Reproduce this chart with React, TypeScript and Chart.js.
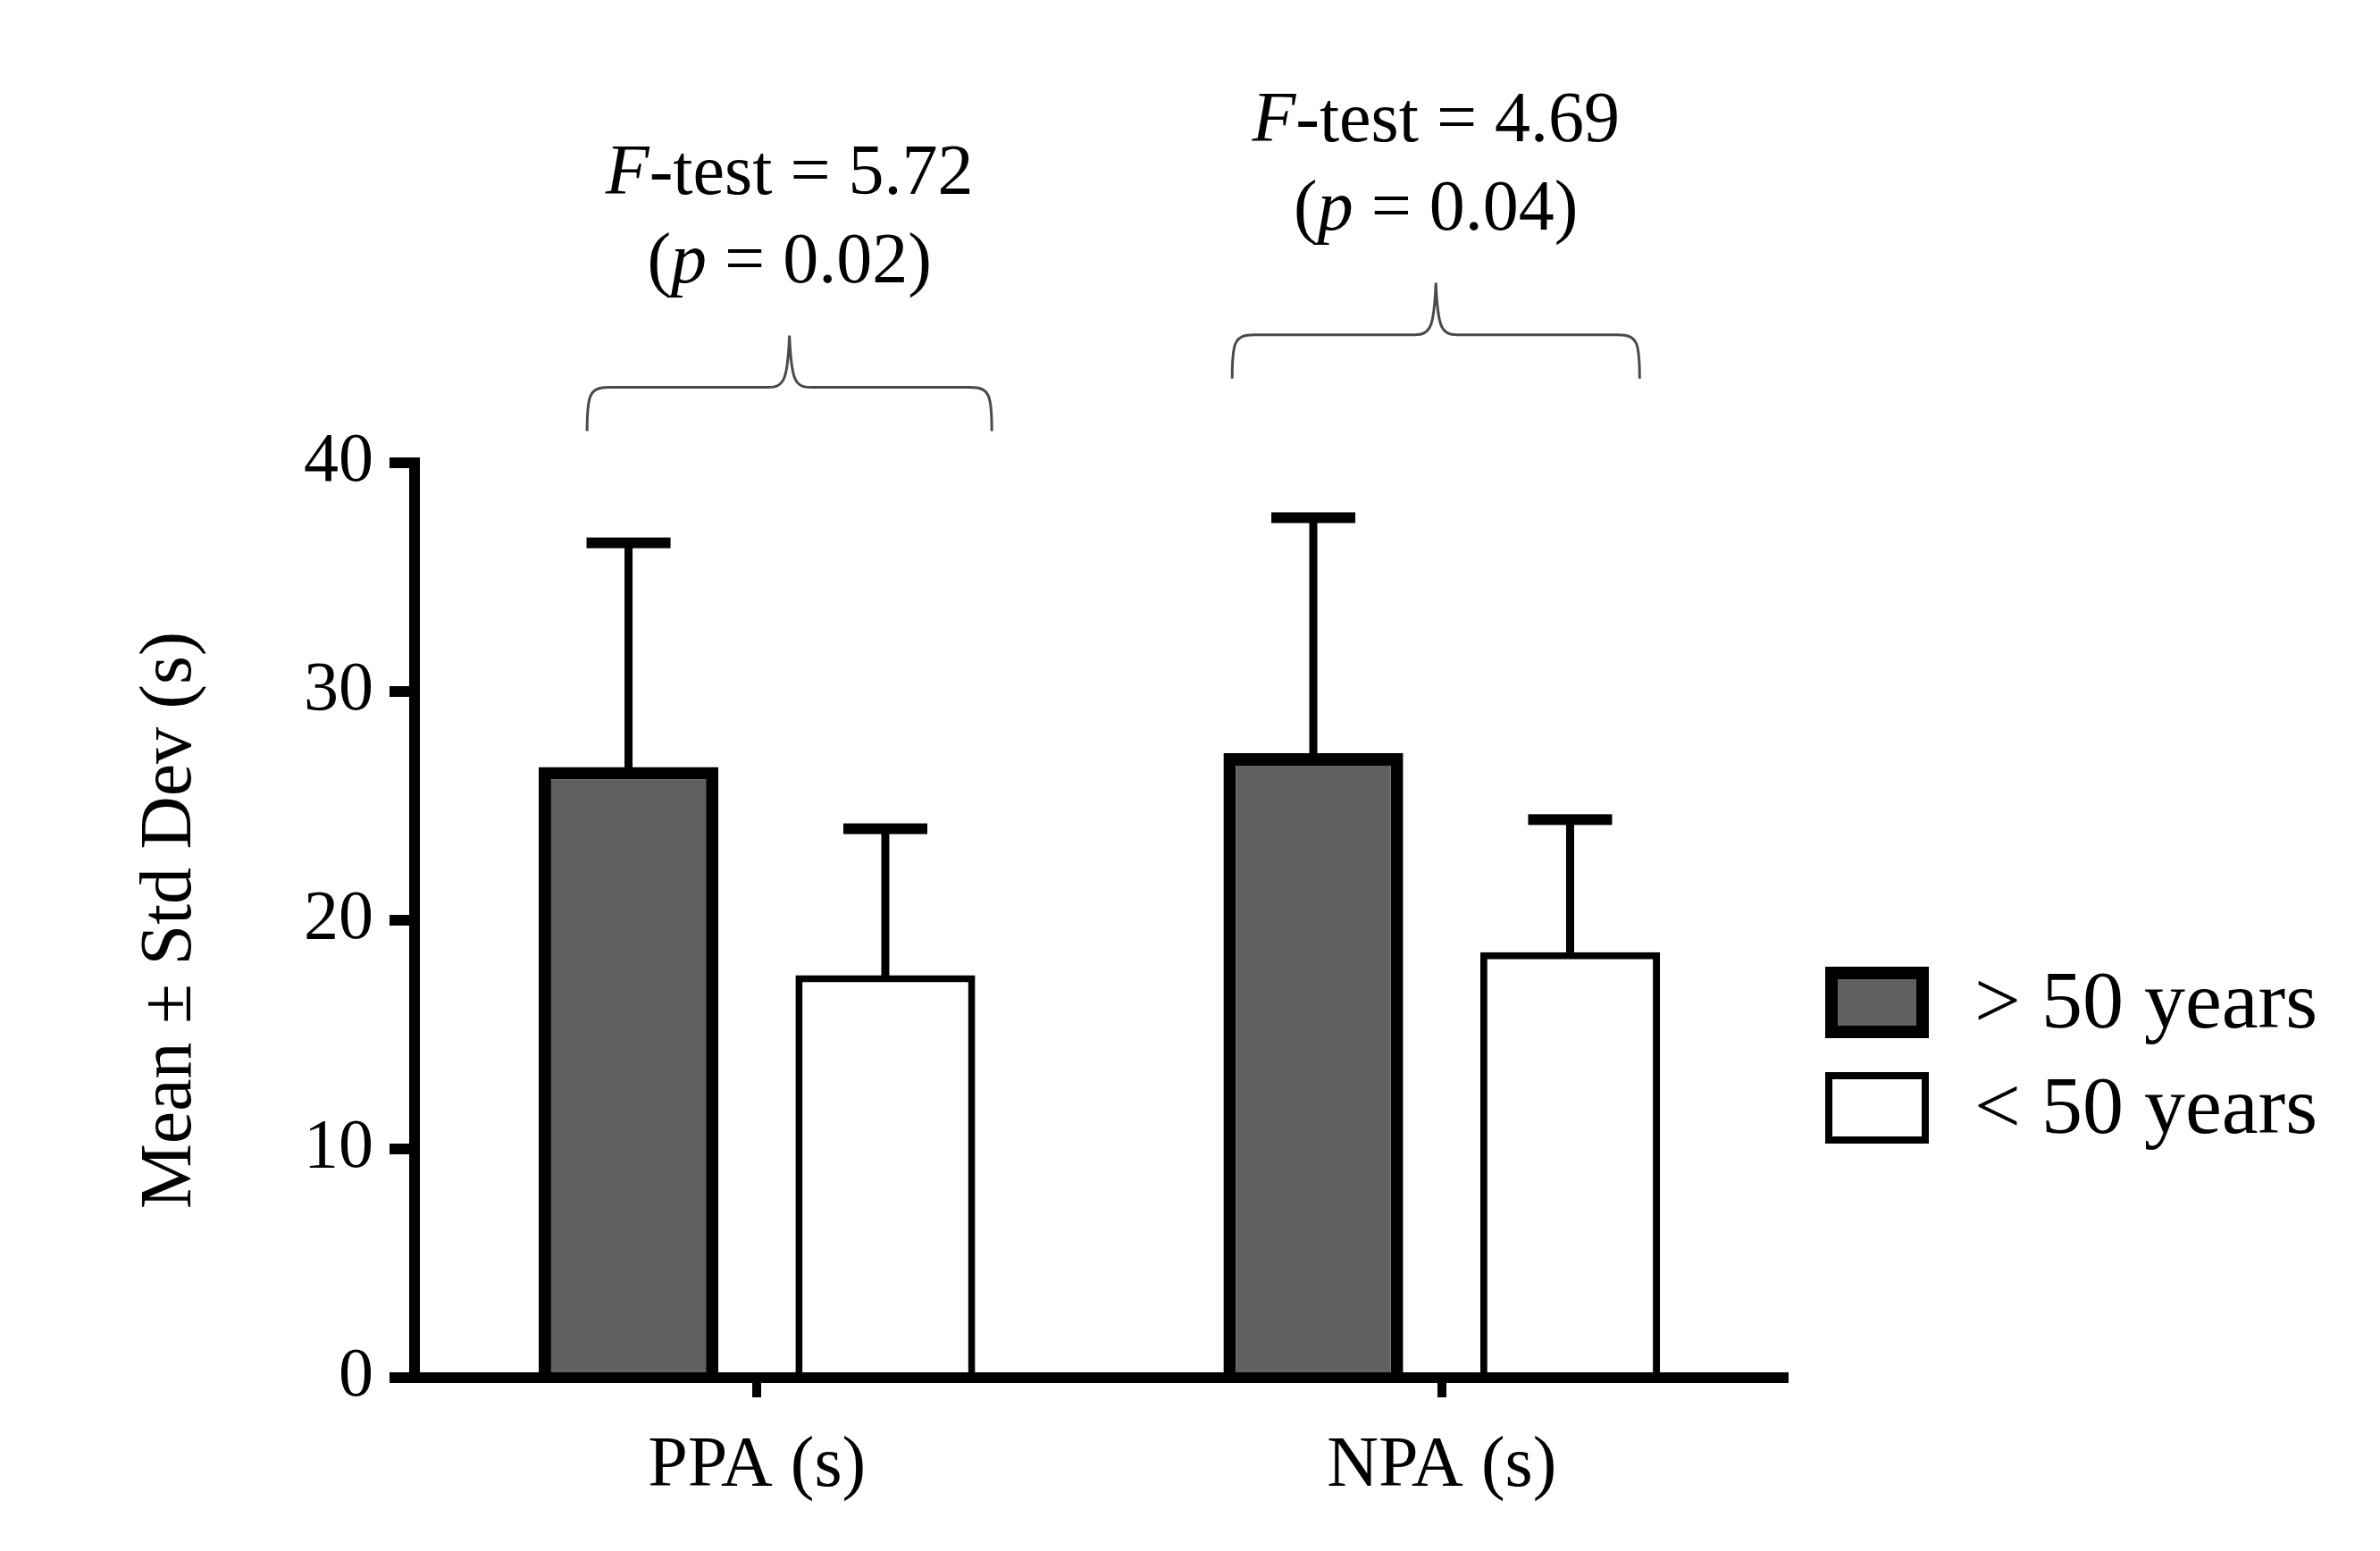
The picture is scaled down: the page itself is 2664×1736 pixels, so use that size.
import React, { useEffect, useRef } from 'react';
import { Chart, registerables, Plugin } from 'chart.js';

Chart.register(...registerables);

const categories = ['PPA (s)', 'NPA (s)'];
const groupLabels = ['> 50 years', '< 50 years'];
const meanOver50 = [26.7, 27.3];
const sdOver50 = [9.8, 10.3];
const meanUnder50 = [17.6, 18.6];
const sdUnder50 = [6.4, 5.8];
const fTests = [5.72, 4.69];
const pValues = [0.02, 0.04];
const yTicks = [0, 10, 20, 30, 40];

const FONT = '"Liberation Serif", "Times New Roman", serif';

// brace placement: span in category units around each tick, level in y units
const braceSpans = [[-0.248, 0.343], [-0.306, 0.289]];
const braceLevels = [43.3, 45.6];

const errorBars: Plugin<'bar'> = {
  id: 'errorBars',
  afterDatasetsDraw(chart) {
    const { ctx } = chart;
    const y = chart.scales.y;
    const sds = [sdOver50, sdUnder50];
    chart.data.datasets.forEach((ds, di) => {
      const meta = chart.getDatasetMeta(di);
      meta.data.forEach((bar: any, i) => {
        const v = ds.data[i] as number;
        const top = y.getPixelForValue(v + sds[di][i]);
        ctx.save();
        ctx.fillStyle = '#000';
        ctx.fillRect(bar.x - 4.5, top, 9, bar.y - top + 2);
        ctx.fillRect(bar.x - 47, top - 6, 94, 12);
        ctx.restore();
      });
    });
  },
};

type Part = { text: string; italic?: boolean };

function drawRich(ctx: CanvasRenderingContext2D, parts: Part[], cx: number, cy: number, size: number) {
  const fonts = parts.map(p => `${p.italic ? 'italic ' : ''}${size}px ${FONT}`);
  const widths = parts.map((p, i) => {
    ctx.font = fonts[i];
    return ctx.measureText(p.text).width;
  });
  let x = cx - widths.reduce((a, b) => a + b, 0) / 2;
  ctx.textBaseline = 'middle';
  ctx.textAlign = 'left';
  ctx.fillStyle = '#000';
  parts.forEach((p, i) => {
    ctx.font = fonts[i];
    ctx.fillText(p.text, x, cy);
    x += widths[i];
  });
}

function drawBrace(ctx: CanvasRenderingContext2D, x0: number, x1: number, yh: number) {
  const xm = (x0 + x1) / 2;
  const drop = 49;
  const rise = 58;
  const r = 24;
  ctx.beginPath();
  ctx.moveTo(x0, yh + drop);
  ctx.bezierCurveTo(x0, yh + 10, x0 + 2, yh, x0 + r, yh);
  ctx.lineTo(xm - r, yh);
  ctx.bezierCurveTo(xm - 6, yh, xm - 2, yh - 8, xm, yh - rise);
  ctx.bezierCurveTo(xm + 2, yh - 8, xm + 6, yh, xm + r, yh);
  ctx.lineTo(x1 - r, yh);
  ctx.bezierCurveTo(x1 - 2, yh, x1, yh + 10, x1, yh + drop);
  ctx.stroke();
}

const annotations: Plugin<'bar'> = {
  id: 'annotations',
  afterDraw(chart) {
    const { ctx } = chart;
    const x = chart.scales.x;
    const y = chart.scales.y;
    const catW = (x.right - x.left) / categories.length;
    ctx.save();
    ctx.strokeStyle = '#4a4a4a';
    ctx.lineWidth = 3;
    categories.forEach((_, i) => {
      const c = x.getPixelForValue(i);
      const x0 = c + braceSpans[i][0] * catW;
      const x1 = c + braceSpans[i][1] * catW;
      const yh = y.getPixelForValue(braceLevels[i]);
      drawBrace(ctx, x0, x1, yh);
      const xm = (x0 + x1) / 2;
      drawRich(ctx, [{ text: 'F', italic: true }, { text: `-test = ${fTests[i].toFixed(2)}` }], xm, yh - 238, 80);
      drawRich(ctx, [{ text: '(' }, { text: 'p', italic: true }, { text: ` = ${pValues[i].toFixed(2)})` }], xm, yh - 139, 80);
    });
    ctx.restore();
  },
};

const sideLegend: Plugin<'bar'> = {
  id: 'sideLegend',
  afterDraw(chart) {
    const { ctx, chartArea } = chart;
    const left = chartArea.right + 46;
    const centers = [1122, 1240];
    ctx.save();
    chart.data.datasets.forEach((ds: any, i) => {
      const bw = ds.borderWidth as number;
      const w = 116;
      const h = 80;
      const top = centers[i] - h / 2;
      ctx.fillStyle = '#000';
      ctx.fillRect(left, top, w, h);
      ctx.fillStyle = ds.backgroundColor;
      ctx.fillRect(left + bw, top + bw, w - 2 * bw, h - 2 * bw);
      ctx.fillStyle = '#000';
      ctx.font = `92px ${FONT}`;
      ctx.textBaseline = 'middle';
      ctx.textAlign = 'left';
      ctx.fillText(ds.label, left + 167, centers[i] + 4);
    });
    ctx.restore();
  },
};

const App: React.FC = () => {
  const canvasRef = useRef<HTMLCanvasElement | null>(null);
  const chartRef = useRef<Chart | null>(null);

  useEffect(() => {
    if (!canvasRef.current) return;
    chartRef.current?.destroy();
    chartRef.current = new Chart(canvasRef.current, {
      type: 'bar',
      data: {
        labels: categories,
        datasets: [
          {
            label: groupLabels[0],
            data: meanOver50,
            backgroundColor: '#606060',
            borderColor: '#000',
            borderWidth: 14,
            categoryPercentage: 0.75,
            barPercentage: 0.7,
          },
          {
            label: groupLabels[1],
            data: meanUnder50,
            backgroundColor: '#ffffff',
            borderColor: '#000',
            borderWidth: 8,
            categoryPercentage: 0.75,
            barPercentage: 0.7,
          },
        ],
      },
      options: {
        responsive: true,
        maintainAspectRatio: false,
        animation: false,
        layout: { padding: { top: 518, right: 667, bottom: 0, left: 0 } },
        plugins: {
          legend: { display: false },
          tooltip: { enabled: false },
        },
        scales: {
          x: {
            grid: {
              drawOnChartArea: false,
              offset: false,
              color: '#000',
              lineWidth: 10,
              tickLength: 22,
            },
            border: { color: '#000', width: 12 },
            ticks: { color: '#000', font: { family: FONT, size: 80 }, padding: 30 },
            afterFit: (s: any) => {
              s.height = 194;
            },
          },
          y: {
            min: 0,
            max: 40,
            afterBuildTicks: (s: any) => {
              s.ticks = yTicks.map(v => ({ value: v }));
            },
            ticks: { color: '#000', font: { family: FONT, size: 78 }, padding: 18 },
            grid: { drawOnChartArea: false, color: '#000', lineWidth: 12, tickLength: 28 },
            border: { color: '#000', width: 12 },
            title: {
              display: true,
              text: 'Mean ± Std Dev (s)',
              color: '#000',
              font: { family: FONT, size: 82 },
              padding: { top: 142, bottom: 0 },
            },
            afterFit: (s: any) => {
              s.width = 464;
            },
          },
        },
      },
      plugins: [errorBars, annotations, sideLegend],
    });
    return () => {
      chartRef.current?.destroy();
      chartRef.current = null;
    };
  }, []);

  return (
    <div style={{ position: 'fixed', left: 0, top: 0, width: 2664, height: 1736, background: '#fff' }}>
      <canvas ref={canvasRef}></canvas>
    </div>
  );
};

export default App;
